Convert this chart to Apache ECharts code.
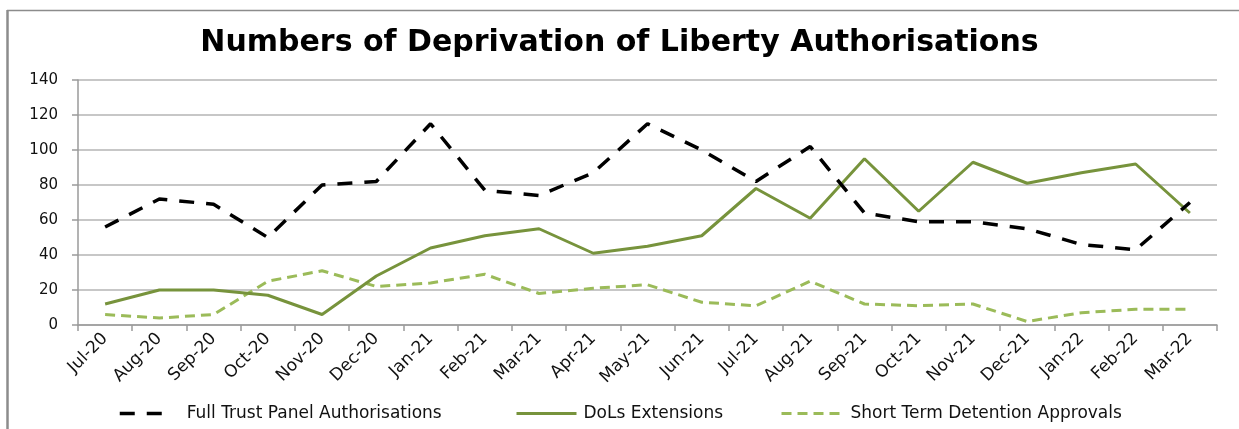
<!DOCTYPE html>
<html>
<head>
<meta charset="utf-8">
<script src="https://cdn.jsdelivr.net/npm/echarts@6/dist/echarts.min.js"></script>
<style>
html,body{margin:0;padding:0;background:#fff;}
#chart{width:1239px;height:429px;}
</style>
</head>
<body>
<div id="chart"></div>
<script>
const categories = ['Jul-20','Aug-20','Sep-20','Oct-20','Nov-20','Dec-20','Jan-21','Feb-21','Mar-21','Apr-21','May-21','Jun-21','Jul-21','Aug-21','Sep-21','Oct-21','Nov-21','Dec-21','Jan-22','Feb-22','Mar-22'];
const fullTrustPanel = [56,72,69,50,80,82,115,77,74,87,115,100,82,102,64,59,59,55,46,43,70];
const dolsExtensions = [12,20,20,17,6,28,44,51,55,41,45,51,78,61,95,65,93,81,87,92,64];
const shortTermDetention = [6,4,6,25,31,22,24,29,18,21,23,13,11,25,12,11,12,2,7,9,9];
const seriesNames = ['Full Trust Panel Authorisations','DoLs Extensions','Short Term Detention Approvals'];
const yTicks = {min:0, max:140, interval:20};

const chart = echarts.init(document.getElementById('chart'));
const font = 'DejaVu Sans';
const legendText = {fontFamily: font, fontSize: 17, color: '#111'};
const legendItemStyle = {color: 'rgba(0,0,0,0)', borderWidth: 0};
chart.setOption({
  animation: false,
  backgroundColor: '#fff',
  graphic: [
    {type: 'line', shape: {x1: 7, y1: 10.5, x2: 1239, y2: 10.5}, style: {stroke: '#8c8c8c', lineWidth: 1.5}, silent: true},
    {type: 'line', shape: {x1: 7.5, y1: 10, x2: 7.5, y2: 429}, style: {stroke: '#8c8c8c', lineWidth: 2.5}, silent: true}
  ],
  title: {
    text: 'Numbers of Deprivation of Liberty Authorisations',
    left: 'center',
    top: 23,
    padding: [5, 5, 5, 17],
    textStyle: {fontFamily: font, fontWeight: 'bold', fontSize: 30, color: '#000'}
  },
  legend: [
    {data: [seriesNames[0]], left: 113, top: 400, itemWidth: 50, itemHeight: 2, itemStyle: legendItemStyle, lineStyle: {width: 3.5}, textStyle: Object.assign({padding: [0,0,0,12]}, legendText)},
    {data: [seriesNames[1]], left: 510, top: 400, itemWidth: 60, itemHeight: 2, itemStyle: legendItemStyle, lineStyle: {width: 3}, textStyle: Object.assign({padding: [0,0,0,2]}, legendText)},
    {data: [seriesNames[2]], left: 775, top: 400, itemWidth: 64, itemHeight: 2, itemStyle: legendItemStyle, lineStyle: {width: 3}, textStyle: Object.assign({padding: [0,0,0,0]}, legendText)}
  ],
  grid: {left: 78, right: 22, top: 80, bottom: 104, containLabel: false},
  xAxis: {
    type: 'category',
    data: categories,
    boundaryGap: true,
    axisLine: {lineStyle: {color: '#9a9a9a', width: 1.5}},
    axisTick: {show: true, interval: 0, length: 6, lineStyle: {color: '#9a9a9a', width: 1.5}},
    axisLabel: {interval: 0, rotate: 45, margin: 11, fontFamily: font, fontSize: 17, color: '#111'}
  },
  yAxis: {
    type: 'value',
    min: yTicks.min, max: yTicks.max, interval: yTicks.interval,
    axisLine: {show: true, lineStyle: {color: '#9a9a9a', width: 1.5}},
    axisTick: {show: true, length: 6, lineStyle: {color: '#9a9a9a', width: 1.5}},
    axisLabel: {margin: 20, fontFamily: font, fontSize: 15, color: '#111'},
    splitLine: {lineStyle: {color: '#b5b5b5', width: 1.5}}
  },
  series: [
    {
      name: seriesNames[0], type: 'line', data: fullTrustPanel, symbol: 'none',
      lineStyle: {color: '#000', width: 3.5, type: [15, 12]},
      itemStyle: {color: '#000'}, z: 3
    },
    {
      name: seriesNames[1], type: 'line', data: dolsExtensions, symbol: 'none',
      lineStyle: {color: '#77933C', width: 3}, itemStyle: {color: '#77933C'}, z: 2
    },
    {
      name: seriesNames[2], type: 'line', data: shortTermDetention, symbol: 'none',
      lineStyle: {color: '#9BBB59', width: 3, type: [10, 6]}, itemStyle: {color: '#9BBB59'}, z: 1
    }
  ]
});
</script>
</body>
</html>
